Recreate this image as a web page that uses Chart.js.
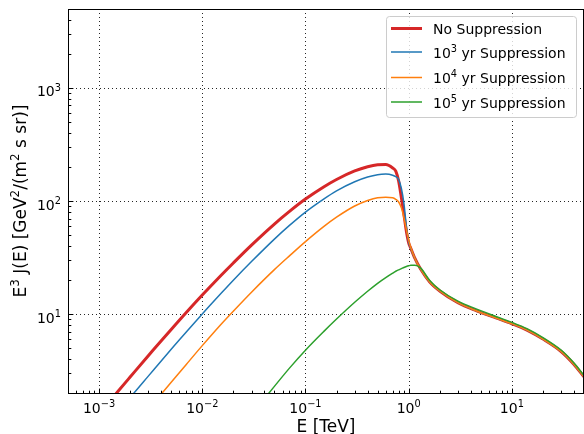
<!DOCTYPE html>
<html>
<head>
<meta charset="utf-8">
<script src="https://cdn.jsdelivr.net/npm/chart.js@4.4.0/dist/chart.umd.min.js"></script>
<style>
html, body { margin: 0; padding: 0; background: #fff; }
#chart { display: block; }
</style>
</head>
<body>
<canvas id="chart" width="584" height="434"></canvas>
<script>
// energy grid [TeV] shared by all curves
const energy = [0.001, 0.0015, 0.002, 0.003, 0.005, 0.007,
    0.01, 0.015, 0.02, 0.03, 0.05, 0.07,
    0.1, 0.15, 0.2, 0.3, 0.4, 0.5, 0.6, 0.7, 0.75, 0.8, 0.85, 0.9, 0.95,
    1.0, 1.05, 1.15, 1.3, 1.6, 2.0, 3.0, 4.5, 7.0,
    10, 14, 20, 30, 40, 50];

// E^3 J(E) values
const noSupp = [1.30, 2.03, 2.77, 4.28, 7.29, 10.3,
    14.7, 21.7, 28.3, 40.7, 62.5, 80.9,
    104, 133, 155, 184.5, 201, 209, 210, 196, 184, 150, 107, 76, 54,
    42.7, 38, 31, 25.1, 19.2, 16.0, 12.6, 10.7, 9.23,
    8.2, 7.2, 6.0, 4.66, 3.58, 2.78];
const supp1e3 = [0.838, 1.32, 1.82, 2.82, 4.88, 6.93,
    10.0, 15.0, 19.9, 29.1, 46.0, 60.8,
    79.8, 104, 123, 148, 163, 171, 173, 169, 164, 155, 129, 95, 60,
    43.6, 38, 31, 25.1, 19.2, 16.0, 12.6, 10.7, 9.23,
    8.2, 7.2, 6.0, 4.66, 3.58, 2.78];
const supp1e4 = [0.43, 0.676, 0.923, 1.43, 2.49, 3.58,
    5.25, 8.0, 10.6, 15.6, 24.7, 32.7,
    43.7, 59.3, 71.9, 90.3, 101, 107, 108, 107, 103.5, 98, 87, 71, 56,
    45, 38.5, 31, 25.1, 19.2, 16.0, 12.6, 10.7, 9.23,
    8.2, 7.2, 6.0, 4.66, 3.58, 2.78];
const supp1e5 = [null, null, null, null, null, null,
    null, null, 0.82, 1.29, 2.29, 3.32,
    4.78, 6.98, 9.02, 12.7, 15.9, 18.7, 21.0, 23.0, 23.9, 24.6, 25.2, 25.8, 26.3,
    26.7, 27.0, 27.0, 25.6, 19.8, 16.4, 13.0, 11.1, 9.51,
    8.44, 7.42, 6.19, 4.80, 3.68, 2.86];

const seriesLabels = ['No Suppression', '10^3 yr Suppression', '10^4 yr Suppression', '10^5 yr Suppression'];

const xTickValues = [1e-3, 1e-2, 1e-1, 1, 10];
const xTickLabels = ['10^{\u22123}', '10^{\u22122}', '10^{\u22121}', '10^0', '10^1'];
const yTickValues = [10, 100, 1000];
const yTickLabels = ['10^1', '10^2', '10^3'];

const xTitle = 'E [TeV]';
const yTitle = 'E^3 J(E) [GeV^2/(m^2 s sr)]';

const FONT = 'DejaVu Sans';

function toPoints(values) {
    return energy.map((e, i) => ({ x: e, y: values[i] }));
}

// split "10^{-3}" style strings into normal / superscript parts
function mathParts(text) {
    return text.split(/\^(\{[^}]*\}|[^\s{])/).map((p, i) => ({ t: p.replace(/[{}]/g, ''), sup: i % 2 === 1 }));
}

function mathWidth(ctx, text, size) {
    let w = 0;
    mathParts(text).forEach(p => {
        ctx.font = (p.sup ? size * 0.7 : size) + 'px "' + FONT + '"';
        w += ctx.measureText(p.t).width;
    });
    return w;
}

function drawMath(ctx, text, x, y, size) {
    ctx.textAlign = 'left';
    ctx.textBaseline = 'alphabetic';
    mathParts(text).forEach(p => {
        const s = p.sup ? size * 0.7 : size;
        ctx.font = s + 'px "' + FONT + '"';
        ctx.fillText(p.t, x, p.sup ? y - size * 0.4 : y);
        x += ctx.measureText(p.t).width;
    });
}

function minorTicks(min, max) {
    const out = [];
    for (let e = Math.floor(Math.log10(min)); e <= Math.ceil(Math.log10(max)); e++) {
        for (let m = 2; m <= 9; m++) {
            const v = m * Math.pow(10, e);
            if (v >= min && v <= max) out.push(v);
        }
    }
    return out;
}

function seg(ctx, x1, y1, x2, y2) {
    ctx.beginPath();
    ctx.moveTo(x1, y1);
    ctx.lineTo(x2, y2);
    ctx.stroke();
}

function roundRect(ctx, x, y, w, h, r) {
    ctx.beginPath();
    ctx.moveTo(x + r, y);
    ctx.arcTo(x + w, y, x + w, y + h, r);
    ctx.arcTo(x + w, y + h, x, y + h, r);
    ctx.arcTo(x, y + h, x, y, r);
    ctx.arcTo(x, y, x + w, y, r);
    ctx.closePath();
}

const axesDecor = {
    id: 'axesDecor',
    beforeDatasetsDraw(chart) {
        const { ctx, chartArea: a, scales: { x, y } } = chart;
        ctx.save();
        ctx.strokeStyle = 'rgba(0,0,0,0.85)';
        ctx.lineWidth = 1;
        ctx.setLineDash([1, 3]);
        xTickValues.forEach(v => {
            const px = Math.round(x.getPixelForValue(v)) + 0.5;
            seg(ctx, px, a.top, px, a.bottom);
        });
        yTickValues.forEach(v => {
            const py = Math.round(y.getPixelForValue(v)) + 0.5;
            seg(ctx, a.left, py, a.right, py);
        });
        ctx.restore();
    },
    afterDatasetsDraw(chart) {
        const { ctx, chartArea: a, scales: { x, y } } = chart;
        ctx.save();
        ctx.strokeStyle = '#000';
        ctx.fillStyle = '#000';
        ctx.lineWidth = 1;
        ctx.setLineDash([]);

        // inward ticks
        const bx = a.bottom + 0.5, lx = a.left + 0.5;
        minorTicks(x.min, x.max).forEach(v => {
            const px = Math.round(x.getPixelForValue(v)) + 0.5;
            seg(ctx, px, bx, px, bx - 2.8);
        });
        xTickValues.forEach(v => {
            const px = Math.round(x.getPixelForValue(v)) + 0.5;
            seg(ctx, px, bx, px, bx - 4.9);
        });
        minorTicks(y.min, y.max).forEach(v => {
            const py = Math.round(y.getPixelForValue(v)) + 0.5;
            seg(ctx, lx, py, lx + 2.8, py);
        });
        yTickValues.forEach(v => {
            const py = Math.round(y.getPixelForValue(v)) + 0.5;
            seg(ctx, lx, py, lx + 4.9, py);
        });

        // spines
        ctx.strokeRect(a.left + 0.5, a.top + 0.5, a.right - a.left - 1, a.bottom - a.top);

        // tick labels
        xTickValues.forEach((v, i) => {
            const px = x.getPixelForValue(v);
            const w = mathWidth(ctx, xTickLabels[i], 14);
            drawMath(ctx, xTickLabels[i], px - w / 2, a.bottom + 20, 14);
        });
        yTickValues.forEach((v, i) => {
            const py = y.getPixelForValue(v);
            const w = mathWidth(ctx, yTickLabels[i], 14);
            drawMath(ctx, yTickLabels[i], a.left - 7 - w, py + 8.5, 14);
        });

        // axis titles
        let w = mathWidth(ctx, xTitle, 17);
        drawMath(ctx, xTitle, (a.left + a.right) / 2 - w / 2, 432.4, 17);
        ctx.save();
        ctx.translate(26, (a.top + a.bottom) / 2);
        ctx.rotate(-Math.PI / 2);
        w = mathWidth(ctx, yTitle, 17);
        drawMath(ctx, yTitle, -w / 2, 0, 17);
        ctx.restore();

        // legend
        roundRect(ctx, 386.5, 16.5, 190, 101, 3);
        ctx.fillStyle = 'rgba(255,255,255,0.8)';
        ctx.fill();
        ctx.strokeStyle = '#cccccc';
        ctx.stroke();
        const rows = [34, 57.5, 83, 107.5];
        chart.data.datasets.forEach((ds, i) => {
            ctx.strokeStyle = ds.borderColor;
            ctx.lineWidth = ds.borderWidth;
            seg(ctx, 391, rows[i] - 5.5, 422, rows[i] - 5.5);
            ctx.fillStyle = '#000';
            drawMath(ctx, seriesLabels[i], 433, rows[i], 14);
        });
        ctx.restore();
    }
};

const common = { pointRadius: 0, fill: false, cubicInterpolationMode: 'monotone', clip: 0, borderJoinStyle: 'round' };

new Chart(document.getElementById('chart'), {
    type: 'line',
    data: {
        datasets: [
            Object.assign({ label: 'No Suppression', data: toPoints(noSupp), borderColor: '#d62728', borderWidth: 3, order: 3 }, common),
            Object.assign({ label: '10\u00b3 yr Suppression', data: toPoints(supp1e3), borderColor: '#1f77b4', borderWidth: 1.5, order: 2 }, common),
            Object.assign({ label: '10\u2074 yr Suppression', data: toPoints(supp1e4), borderColor: '#ff7f0e', borderWidth: 1.5, order: 1 }, common),
            Object.assign({ label: '10\u2075 yr Suppression', data: toPoints(supp1e5), borderColor: '#2ca02c', borderWidth: 1.5, order: 0 }, common)
        ]
    },
    options: {
        responsive: false,
        devicePixelRatio: 1,
        animation: false,
        layout: { padding: { top: 9, right: 0, bottom: 0, left: 0 } },
        plugins: { legend: { display: false }, tooltip: { enabled: false } },
        scales: {
            x: {
                type: 'logarithmic', min: 5e-4, max: 50,
                grid: { display: false }, border: { display: false },
                ticks: { display: false, autoSkip: false },
                afterFit: scale => { scale.height = 41; }
            },
            y: {
                type: 'logarithmic', min: 2, max: 5000,
                grid: { display: false }, border: { display: false },
                ticks: { display: false, autoSkip: false },
                afterFit: scale => { scale.width = 68; }
            }
        }
    },
    plugins: [axesDecor]
});
</script>
</body>
</html>
